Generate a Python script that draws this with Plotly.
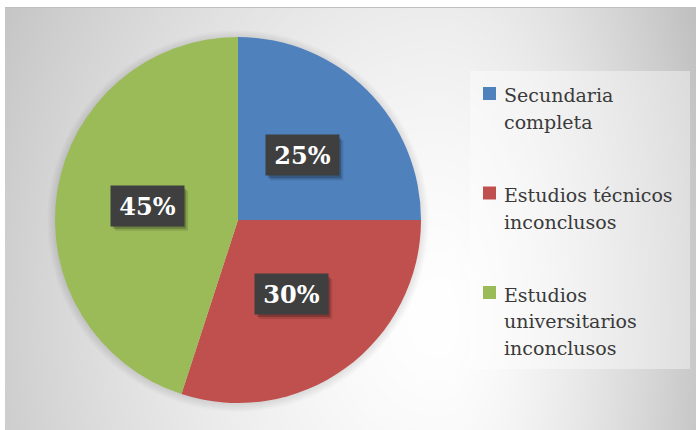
import base64
import struct
import zlib

import numpy as np
import plotly.graph_objects as go

# ---------------- data ----------------
categories = ["Secundaria<br>completa",
              "Estudios técnicos<br>inconclusos",
              "Estudios<br>universitarios<br>inconclusos"]
values = [25, 30, 45]
colors = ["#4F81BD", "#C0504D", "#9BBB59"]

W, H = 696, 430

# ---------------- background gradient (PNG generated in memory) ----------------
yy, xx = np.mgrid[0:H, 0:W].astype(float)
gcx, gcy = 440.0, 320.0
ax = np.where(xx < gcx, 520.0, 280.0)
ay = np.where(yy < gcy, 690.0, 600.0)
t = np.sqrt(((xx - gcx) / ax) ** 2 + ((yy - gcy) / ay) ** 2)
c = np.clip(255 - 62 * t ** 1.5, 192, 255)
c[:7, :] = 255
c[:, :5] = 255
c[7, 5:] = 0xC0
arr = np.repeat(c[:, :, None], 3, axis=2).astype(np.uint8)


def _chunk(tag, data):
    return (struct.pack(">I", len(data)) + tag + data +
            struct.pack(">I", zlib.crc32(tag + data) & 0xFFFFFFFF))


raw = b"".join(b"\x00" + row.tobytes() for row in arr)
png = (b"\x89PNG\r\n\x1a\n" +
       _chunk(b"IHDR", struct.pack(">IIBBBBB", W, H, 8, 2, 0, 0, 0)) +
       _chunk(b"IDAT", zlib.compress(raw, 9)) +
       _chunk(b"IEND", b""))
bg_src = "data:image/png;base64," + base64.b64encode(png).decode()

# ---------------- pie geometry ----------------
pie_cx_px, pie_cy_px, pie_r_px = 238.0, 220.0, 183.0
dom_x = [(pie_cx_px - pie_r_px) / W, (pie_cx_px + pie_r_px) / W]
dom_y = [1 - (pie_cy_px + pie_r_px) / H, 1 - (pie_cy_px - pie_r_px) / H]
cxp = (dom_x[0] + dom_x[1]) / 2
cyp = (dom_y[0] + dom_y[1]) / 2

fig = go.Figure()
fig.add_trace(go.Pie(
    labels=[s.replace("<br>", " ") for s in categories],
    values=values,
    marker=dict(colors=colors, line=dict(width=0)),
    sort=False,
    direction="clockwise",
    rotation=0,
    textinfo="none",
    hoverinfo="label+percent",
    showlegend=False,
    domain=dict(x=dom_x, y=dom_y),
))

shapes = []
# soft shadow around the pie
for k in range(1, 9):
    shapes.append(dict(
        type="circle", layer="below", xref="paper", yref="paper",
        xsizemode="pixel", ysizemode="pixel", xanchor=cxp, yanchor=cyp,
        x0=-(pie_r_px + k), x1=pie_r_px + k,
        y0=-(pie_r_px + k) - 1, y1=pie_r_px + k - 1,
        fillcolor="rgba(0,0,0,0.012)", line=dict(width=0)))

# legend box
shapes.append(dict(type="rect", layer="below", xref="paper", yref="paper",
                   x0=470 / W, x1=690 / W, y0=1 - 369 / H, y1=1 - 71 / H,
                   fillcolor="rgba(255,255,255,0.40)", line=dict(width=0)))

annotations = []
# percentage labels
box_w, box_h = 73, 40
total = float(sum(values))
cum = 0.0
for v in values:
    theta = 2 * np.pi * (cum + v / 2) / total
    cum += v
    lx = cxp + 0.5 * pie_r_px * np.sin(theta) / W
    ly = cyp + 0.5 * pie_r_px * np.cos(theta) / H
    txt = f"{v / total * 100:.0f}%"
    # drop shadow of the label box
    for dx, dy, a in [(4, -5, 0.12), (2, -3, 0.22)]:
        shapes.append(dict(
            type="rect", xref="paper", yref="paper",
            xsizemode="pixel", ysizemode="pixel", xanchor=lx, yanchor=ly,
            x0=-box_w / 2 + dx, x1=box_w / 2 + dx,
            y0=-box_h / 2 + dy, y1=box_h / 2 + dy,
            fillcolor=f"rgba(0,0,0,{a})", line=dict(width=0)))
    annotations.append(dict(
        x=lx, y=ly, xref="paper", yref="paper", text=f"<b>{txt}</b>",
        xanchor="center", yanchor="middle", showarrow=False,
        font=dict(family="DejaVu Serif", size=24, color="#FFFFFF"),
        bgcolor="#3F3F3F", width=box_w, height=box_h, borderpad=0))

# legend entries
leg_sq_x = 483
leg_txt_x = 502
leg_first_y = 93.5
leg_item_gap = 99.5
leg_line_h = 26.5
for i, (cat, col) in enumerate(zip(categories, colors)):
    yc = leg_first_y + i * leg_item_gap
    shapes.append(dict(type="rect", xref="paper", yref="paper",
                       x0=leg_sq_x / W, x1=(leg_sq_x + 13) / W,
                       y0=1 - (yc + 6.5) / H, y1=1 - (yc - 6.5) / H,
                       fillcolor=col, line=dict(width=0)))
    for j, line in enumerate(cat.split("<br>")):
        annotations.append(dict(
            x=leg_txt_x / W, y=1 - (yc + 2 + j * leg_line_h) / H,
            xref="paper", yref="paper", xanchor="left", yanchor="middle",
            text=line, showarrow=False,
            font=dict(family="DejaVu Serif", size=19, color="#3A3A3A")))

fig.update_layout(
    width=W, height=H,
    margin=dict(l=0, r=0, t=0, b=0),
    paper_bgcolor="#FFFFFF",
    plot_bgcolor="#FFFFFF",
    images=[dict(source=bg_src, xref="paper", yref="paper", x=0, y=1,
                 sizex=1, sizey=1, xanchor="left", yanchor="top",
                 sizing="stretch", layer="below")],
    shapes=shapes,
    annotations=annotations,
    showlegend=False,
)

fig.write_html("out.html")
